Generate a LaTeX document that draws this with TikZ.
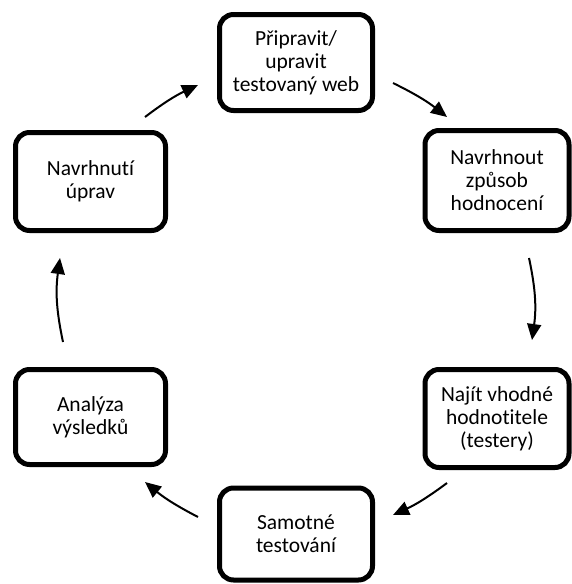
\documentclass[tikz,border=0pt]{standalone}
\usepackage{fontspec}
\setmainfont{Carlito}[Ligatures=NoCommon]
\usetikzlibrary{arrows.meta}

\begin{document}
\begin{tikzpicture}[
    x=1pt, y=-1pt,
    box/.style={rectangle, draw, line width=5pt, rounded corners=14pt, align=center,
        font=\fontsize{21.5}{23}\selectfont},
    arrow/.style={-{Triangle[length=16pt,width=14pt]}, line width=2pt}
]
    \useasboundingbox (0,0) rectangle (571,584);

    % Cycle steps
    \node[box, minimum width=153pt, minimum height=96pt] (prep) at (296,62.5) {Připravit/\\upravit\\testovaný web};
    \node[box, minimum width=144pt, minimum height=100pt] (design) at (497,180.5) {Navrhnout\\způsob\\hodnocení};
    \node[box, minimum width=144pt, minimum height=98pt] (find) at (497,418.5) {Najít vhodné\\hodnotitele\\(testery)};
    \node[box, minimum width=153pt, minimum height=92pt] (test) at (296,534) {Samotné\\testování};
    \node[box, minimum width=150pt, minimum height=95pt] (analyze) at (90.5,417) {Analýza\\výsledků};
    \node[box, minimum width=150pt, minimum height=98pt] (propose) at (90.5,181.5) {Navrhnutí\\úprav};

    % Arrows
    \draw[arrow] ([xshift=18pt,yshift=-20.5pt]prep.east) to[bend left=6] ([xshift=-50pt,yshift=11pt]design.north);
    \draw[arrow] ([xshift=32pt,yshift=-25pt]design.south) to[bend left=10] ([xshift=35pt,yshift=27pt]find.north);
    \draw[arrow] ([xshift=-50pt,yshift=-13pt]find.south) to[bend left=6] ([xshift=18pt,yshift=19pt]test.east);
    \draw[arrow] ([xshift=-19pt,yshift=17pt]test.west) to[bend left=6] ([xshift=54.5pt,yshift=-15pt]analyze.south);
    \draw[arrow] ([xshift=-27.5pt,yshift=25pt]analyze.north) to[bend left=10] ([xshift=-30.5pt,yshift=-25pt]propose.south);
    \draw[arrow] ([xshift=54.5pt,yshift=13pt]propose.north) to[bend left=6] ([xshift=-19pt,yshift=-22.5pt]prep.west);
\end{tikzpicture}
\end{document}
